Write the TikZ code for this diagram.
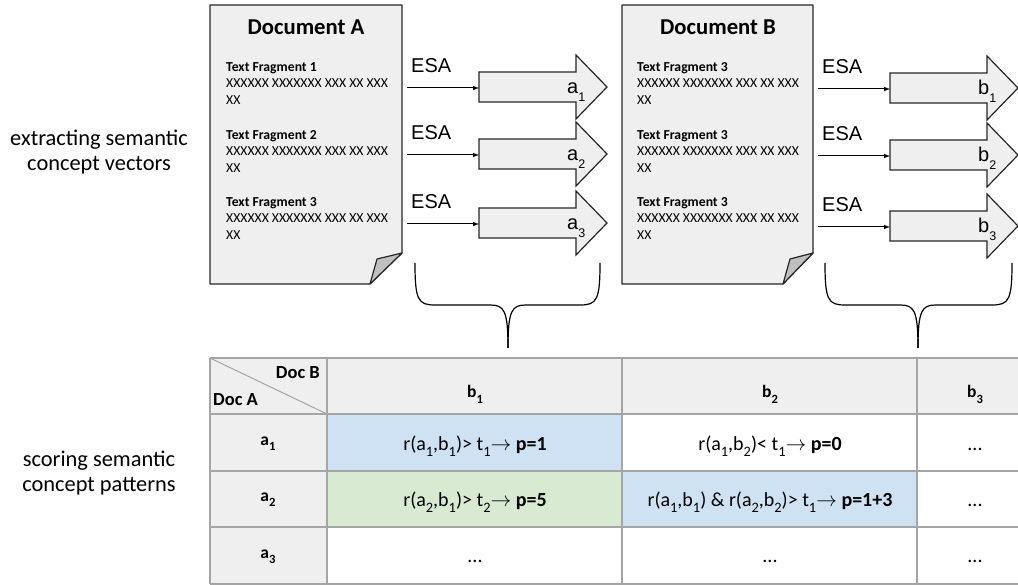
\documentclass[tikz,border=0pt]{standalone}
\usepackage{fontspec}
\setmainfont{Carlito}
\newfontfamily\arialfont{Liberation Sans}
\usetikzlibrary{arrows,positioning,calc}

\definecolor{docgray}{HTML}{EFEFEF}
\definecolor{foldgray}{HTML}{BFBFBF}
\definecolor{gridgray}{HTML}{A5A5A5}
\definecolor{cellblue}{HTML}{CFE2F3}
\definecolor{cellgreen}{HTML}{D9EAD3}
\definecolor{outline}{HTML}{262626}

\newcommand{\vecsub}[1]{\raisebox{-0.4em}{\fontsize{12.5}{12.5}\selectfont #1}}
\newcommand{\tabsub}[1]{\raisebox{-0.33em}{\scalebox{0.72}{#1}}}

\begin{document}
\begin{tikzpicture}[x=1pt,y=-1pt,
  docbox/.style={draw=outline, line width=1.2pt, fill=docgray, line join=round},
  fold/.style={draw=outline, line width=1.2pt, fill=foldgray, line join=round},
  doctitle/.style={font=\fontsize{22.7}{26}\selectfont\bfseries, anchor=base},
  fragment/.style={font=\fontsize{13.7}{16.8}\selectfont, align=left, anchor=north west, inner sep=0pt},
  esa/.style={font=\arialfont\fontsize{20}{24}\selectfont, anchor=base west, inner sep=0pt},
  esaline/.style={->, >=latex, line width=1pt},
  blockarrow/.style={draw=outline, line width=1.2pt, fill=docgray},
  veclabel/.style={font=\arialfont\fontsize{20}{24}\selectfont, anchor=base west, inner sep=0pt},
  brace/.style={draw=black, line width=1.2pt},
  grid/.style={draw=gridgray, line width=1.5pt},
  headtext/.style={font=\fontsize{17.5}{20}\selectfont\bfseries, anchor=base, inner sep=0pt},
  cornertext/.style={font=\fontsize{18.5}{21}\selectfont\bfseries, inner sep=0pt},
  celltext/.style={font=\fontsize{20}{22}\selectfont, anchor=base, inner sep=0pt},
  sidetext/.style={font=\fontsize{22.4}{25}\selectfont, align=center}]

  \useasboundingbox (0,0) rectangle (1018,585);
  \clip (0,0) rectangle (1018,585);

  % Side captions
  \node[sidetext] (extract) at (99,152) {extracting semantic\\concept vectors};
  \node[sidetext] (scoring) at (99,473) {scoring semantic\\concept patterns};

  % Document A
  \draw[docbox] (210,5) -- (402,5) -- (402,253) -- (370,284) -- (210,284) -- cycle;
  \draw[fold] (370,284) -- (377,259) -- (402,253) -- cycle;
  \node[doctitle] (titleA) at (306,35) {Document A};
  \foreach \i/\y in {1/62,2/130,3/197}
    \node[fragment] (fragA\i) at (226,\y) {\textbf{Text Fragment \i}\\XXXXXX XXXXXXX XXX XX XXX\\XX};

  % Document B
  \draw[docbox] (622,5) -- (813,5) -- (813,253) -- (783,284) -- (622,284) -- cycle;
  \draw[fold] (783,284) -- (790,259) -- (813,253) -- cycle;
  \node[doctitle] (titleB) at (718,35) {Document B};
  \foreach \i/\y in {1/62,2/130,3/197}
    \node[fragment] (fragB\i) at (637,\y) {\textbf{Text Fragment 3}\\XXXXXX XXXXXXX XXX XX XXX\\XX};

  % ESA vectors of A
  \foreach \i/\r in {1/87,2/154,3/223} {
    \node[esa] (esaA\i) at (411,\r-14) {ESA};
    \coordinate (srcA\i) at (407,\r+1);
    \coordinate (vecA\i) at (479,\r+1);
    \draw[blockarrow] (479,\r) ++(0,-15) -- ++(97,0) -- ++(0,-17) -- ++(31,32) -- ++(-31,32) -- ++(0,-17) -- ++(-97,0) -- cycle;
    \draw[esaline] (srcA\i) -- (vecA\i);
    \node[veclabel] (labA\i) at (567,\r+7) {a\vecsub{\i}};
  }

  % ESA vectors of B
  \foreach \i/\r in {1/88,2/155,3/226} {
    \node[esa] (esaB\i) at (822,\r-14) {ESA};
    \coordinate (srcB\i) at (818,\r+1);
    \coordinate (vecB\i) at (890,\r+1);
    \draw[blockarrow] (890,\r) ++(0,-15) -- ++(97,0) -- ++(0,-17) -- ++(31,32) -- ++(-31,32) -- ++(0,-17) -- ++(-97,0) -- cycle;
    \draw[esaline] (srcB\i) -- (vecB\i);
    \node[veclabel] (labB\i) at (978,\r+7) {b\vecsub{\i}};
  }

  % Braces
  \draw[brace] (415,263) .. controls (415,300) and (418,305) .. (435,305) -- (490,305)
    .. controls (504,305) and (508,310) .. (508,348);
  \draw[brace] (600,263) .. controls (600,300) and (597,305) .. (580,305) -- (526,305)
    .. controls (512,305) and (508,310) .. (508,348);
  \draw[brace] (825,263) .. controls (825,300) and (828,305) .. (845,305) -- (900,305)
    .. controls (914,305) and (918,310) .. (918,348);
  \draw[brace] (1012,263) .. controls (1012,300) and (1009,305) .. (992,305) -- (936,305)
    .. controls (922,305) and (918,310) .. (918,348);

  % Score table
  \fill[docgray] (210,358) rectangle (1033,414);
  \fill[docgray] (210,414) rectangle (327,584);
  \fill[cellblue] (327,414) rectangle (622,471);
  \fill[cellgreen] (327,471) rectangle (622,527);
  \fill[cellblue] (622,471) rectangle (917,527);
  \draw[gridgray, line width=1pt] (210,358) -- (327,414);
  \foreach \y in {358,414,471,527,584}
    \draw[grid] (210,\y) -- (1033,\y);
  \foreach \x in {210,327,622,917}
    \draw[grid] (\x,358) -- (\x,584);

  \node[cornertext, anchor=base east] (docB) at (320,378) {Doc B};
  \node[cornertext, anchor=base west] (docA) at (213,406) {Doc A};
  \node[headtext] (colB1) at (475,398) {b\tabsub{1}};
  \node[headtext] (colB2) at (770,398) {b\tabsub{2}};
  \node[headtext] (colB3) at (975,398) {b\tabsub{3}};
  \node[headtext] (rowA1) at (268,445) {a\tabsub{1}};
  \node[headtext] (rowA2) at (268,501) {a\tabsub{2}};
  \node[headtext] (rowA3) at (268,558) {a\tabsub{3}};

  \node[celltext] (c11) at (475,450) {r(a\tabsub{1},b\tabsub{1})> t\tabsub{1}$\rightarrow$ \textbf{p=1}};
  \node[celltext] (c12) at (770,450) {r(a\tabsub{1},b\tabsub{2})< t\tabsub{1}$\rightarrow$ \textbf{p=0}};
  \node[celltext] (c13) at (975,450) {...};
  \node[celltext] (c21) at (475,506) {r(a\tabsub{2},b\tabsub{1})> t\tabsub{2}$\rightarrow$ \textbf{p=5}};
  \node[celltext] (c22) at (770,506) {r(a\tabsub{1},b\tabsub{1}) \& r(a\tabsub{2},b\tabsub{2})> t\tabsub{1}$\rightarrow$ \textbf{p=1+3}};
  \node[celltext] (c23) at (975,506) {...};
  \node[celltext] (c32) at (475,562) {...};
  \node[celltext] (c33) at (770,562) {...};
  \node[celltext] (c34) at (975,562) {...};
\end{tikzpicture}
\end{document}
